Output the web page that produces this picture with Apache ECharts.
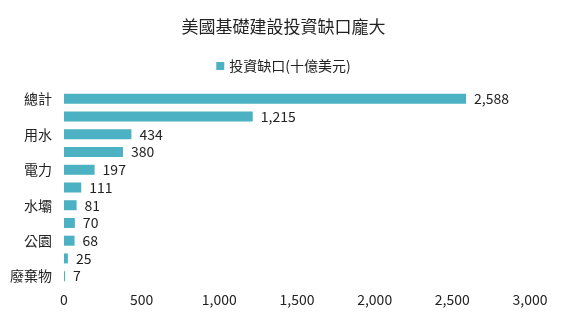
<!DOCTYPE html>
<html>
<head>
<meta charset="utf-8">
<script src="https://cdn.jsdelivr.net/npm/echarts@6/dist/echarts.min.js"></script>
<style>
  html, body { margin: 0; padding: 0; background: #fff; }
  #chart { width: 567px; height: 321px; }
</style>
</head>
<body>
<div id="chart"></div>
<script>
const FONT = '"Noto Sans CJK TC", "Noto Sans", sans-serif';
const BAR_COLOR = "#4bb1c3";

const categories = ["總計", "地面運輸", "用水", "學校", "電力", "機場", "水壩", "堤防", "公園", "港口", "廢棄物"];
const gapValues = [2588, 1215, 434, 380, 197, 111, 81, 70, 68, 25, 7];
const xTicks = [0, 500, 1000, 1500, 2000, 2500, 3000];

const chart = echarts.init(document.getElementById("chart"));

chart.setOption({
  backgroundColor: "#fff",
  animation: false,
  title: {
    text: "美國基礎建設投資缺口龐大",
    left: "center",
    top: 13,
    textStyle: { fontFamily: FONT, fontSize: 17, fontWeight: "normal", color: "#222" }
  },
  legend: {
    top: 54,
    left: "center",
    icon: "rect",
    itemWidth: 8,
    itemHeight: 8,
    itemGap: 4,
    textStyle: { fontFamily: FONT, fontSize: 14, color: "#222" },
    data: ["投資缺口(十億美元)"]
  },
  grid: { left: 64, right: 37, top: 90, bottom: 36, containLabel: false },
  xAxis: {
    type: "value",
    min: xTicks[0],
    max: xTicks[xTicks.length - 1],
    interval: 500,
    splitLine: { show: false },
    axisLine: { show: false },
    axisTick: { show: false },
    axisLabel: {
      fontFamily: FONT,
      fontSize: 14,
      color: "#222",
      margin: 8,
      formatter: v => v.toLocaleString("en-US")
    }
  },
  yAxis: {
    type: "category",
    inverse: true,
    data: categories,
    axisLine: { show: false },
    axisTick: { show: false },
    axisLabel: {
      interval: 1,
      fontFamily: FONT,
      fontSize: 14,
      color: "#222",
      margin: 12
    }
  },
  series: [{
    name: "投資缺口(十億美元)",
    type: "bar",
    data: gapValues,
    barWidth: 10,
    itemStyle: { color: BAR_COLOR },
    label: {
      show: true,
      position: "right",
      distance: 8,
      fontFamily: FONT,
      fontSize: 14,
      color: "#222",
      formatter: p => p.value.toLocaleString("en-US")
    }
  }]
});
</script>
</body>
</html>
